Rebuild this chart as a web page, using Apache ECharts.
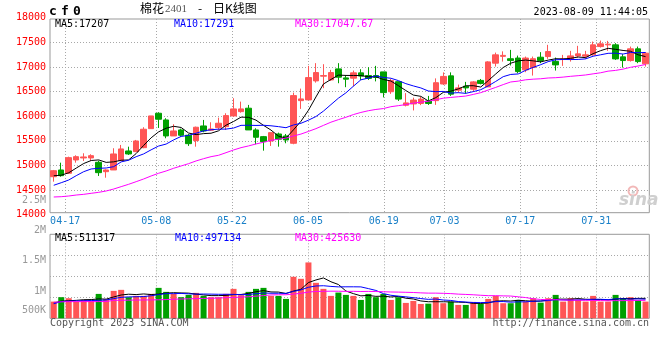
<!DOCTYPE html>
<html><head><meta charset="utf-8">
<script src="https://cdn.jsdelivr.net/npm/echarts/dist/echarts.min.js"></script>
<style>html,body{margin:0;padding:0;background:#fff}#c{width:660px;height:360px}</style>
</head><body><div id="c"></div>
<script>
const dates = ['04-13','04-14','04-17','04-18','04-19','04-20','04-21','04-24','04-25','04-26',
'04-27','04-28','05-04','05-05','05-08','05-09','05-10','05-11','05-12','05-15',
'05-16','05-17','05-18','05-19','05-22','05-23','05-24','05-25','05-26','05-29',
'05-30','05-31','06-01','06-02','06-05','06-06','06-07','06-08','06-09','06-12',
'06-13','06-14','06-15','06-16','06-19','06-20','06-21','06-26','06-27','06-28',
'06-29','06-30','07-03','07-04','07-05','07-06','07-07','07-10','07-11','07-12',
'07-13','07-14','07-17','07-18','07-19','07-20','07-21','07-24','07-25','07-26',
'07-27','07-28','07-31','08-01','08-02','08-03','08-04','08-07','08-08','08-09'];
const labelDates = ['04-17','05-08','05-22','06-05','06-19','07-03','07-17','07-31'];

const opens = [14770,14907,14840,15110,15151,15151,15063,14872,14907,15096,
15293,15279,15360,15746,16059,15923,15598,15720,15612,15502,
15801,15714,15767,15787,16004,16092,16161,15720,15584,15496,
15638,15598,15449,16315,16330,16716,16812,16736,16960,16777,
16771,16879,16824,16824,16899,16496,16700,16222,16248,16258,
16309,16315,16653,16818,16527,16608,16547,16726,16594,17076,
17214,17166,17180,16940,16987,17197,17210,17112,17150,17163,
17224,17218,17245,17413,17448,17448,17204,17129,17367,17062];
const closes = [14892,14791,15157,15177,15171,15197,14852,14907,15232,15334,
15232,15496,15734,16004,15937,15598,15699,15612,15441,15775,
15699,15740,15856,16011,16147,16147,15720,15571,15482,15665,
15531,15516,16417,16350,16783,16885,16824,16885,16791,16751,
16879,16814,16767,16787,16478,16722,16346,16269,16326,16346,
16258,16679,16807,16446,16574,16574,16696,16665,17102,17245,
17234,17131,16905,17180,17166,17129,17312,17041,17163,17224,
17265,17245,17448,17468,17462,17163,17129,17367,17108,17279];
const lows = [14669,14770,14825,15055,15090,15090,14785,14750,14907,15096,
15212,15279,15348,15746,15760,15551,15598,15584,15395,15380,
15673,15699,15720,15720,15990,16071,15720,15429,15299,15395,
15380,15449,15429,16147,16330,16681,16568,16716,16669,16588,
16604,16736,16736,16706,16380,16452,16309,16198,16116,16224,
16228,16228,16633,16411,16478,16458,16492,16645,16594,17007,
17108,17029,16873,16893,16824,17076,17163,16926,17021,17108,
17190,17163,17230,17393,17326,17143,16987,17108,17076,17007];
const highs = [14907,15055,15177,15205,15246,15226,15096,14921,15348,15415,
15380,15517,15775,16004,16080,15958,15836,15746,15638,15787,
15923,15876,15970,16059,16364,16295,16228,15754,15598,15665,
15665,15638,16478,16559,17021,17076,17055,16940,17076,16832,
16926,16954,16994,17021,16899,16760,16700,16468,16376,16395,
16411,16767,16889,16889,16641,16696,16710,16755,17116,17291,
17316,17346,17230,17210,17210,17300,17448,17190,17244,17326,
17428,17326,17515,17535,17529,17482,17259,17413,17413,17300];

const ma5 = [14790,14800,14850,14945,15038,15099,15111,15061,15072,15104,
15111,15240,15406,15560,15681,15754,15794,15770,15657,15625,
15645,15653,15702,15816,15891,15980,15976,15919,15813,15717,
15594,15553,15722,15896,16119,16390,16652,16745,16834,16827,
16826,16824,16800,16800,16745,16714,16620,16520,16428,16402,
16309,16376,16483,16507,16553,16616,16619,16591,16722,16856,
16988,17075,17123,17139,17123,17102,17138,17166,17162,17174,
17201,17188,17269,17330,17378,17357,17334,17318,17246,17209];
const ma10 = [14596,14648,14703,14791,14872,14927,14941,14947,14974,15071,
15105,15176,15233,15316,15393,15433,15517,15588,15609,15653,
15700,15724,15736,15737,15758,15813,15815,15811,15815,15804,
15787,15765,15821,15855,15918,15992,16102,16234,16365,16473,
16608,16738,16773,16817,16786,16770,16722,16660,16614,16573,
16511,16498,16502,16468,16477,16463,16498,16537,16615,16705,
16802,16847,16857,16931,16990,17045,17107,17145,17151,17149,
17152,17163,17217,17246,17276,17279,17261,17293,17288,17293];
const ma30 = [14358,14364,14378,14398,14412,14433,14453,14480,14520,14568,
14616,14669,14724,14785,14840,14886,14941,14988,15035,15090,
15136,15177,15205,15258,15313,15360,15395,15435,15470,15509,
15531,15555,15597,15636,15690,15746,15812,15877,15929,15977,
16032,16075,16110,16136,16154,16192,16213,16235,16264,16284,
16302,16333,16365,16380,16394,16408,16441,16477,16531,16584,
16641,16694,16711,16738,16751,16759,16775,16781,16793,16809,
16822,16836,16859,16881,16914,16929,16955,16992,17018,17049];

const volumes = [437000,553000,526000,437000,481000,455000,639000,500000,718000,745000,
553000,587000,587000,639000,797000,692000,639000,553000,613000,666000,
587000,553000,553000,639000,771000,605000,692000,771000,797000,587000,
587000,508000,1087000,1034000,1463000,929000,771000,587000,674000,613000,
587000,481000,639000,553000,639000,481000,553000,403000,455000,376000,
384000,553000,395000,437000,350000,350000,429000,376000,508000,587000,
395000,395000,481000,437000,526000,410000,526000,613000,437000,526000,
481000,437000,587000,437000,437000,613000,526000,553000,481000,437000];
const vma5 = [400000,450000,460000,470000,487000,490000,508000,502000,559000,611000,
631000,621000,638000,622000,633000,660000,671000,664000,659000,633000,
612000,594000,594000,600000,621000,624000,652000,696000,727000,690000,
687000,650000,713000,761000,936000,1004000,1057000,957000,885000,715000,
646000,588000,599000,575000,580000,559000,573000,526000,506000,454000,
434000,434000,433000,429000,424000,417000,392000,388000,403000,450000,
459000,452000,473000,459000,447000,450000,476000,502000,502000,502000,
517000,499000,494000,494000,476000,502000,520000,513000,522000,522000];
const vma10 = [380000,440000,450000,455000,460000,465000,470000,480000,515000,549000,
561000,564000,570000,590000,622000,646000,646000,651000,641000,633000,
636000,633000,629000,629000,627000,618000,623000,645000,663000,656000,
656000,651000,704000,744000,813000,846000,853000,835000,823000,825000,
825000,823000,778000,730000,647000,603000,581000,562000,540000,517000,
496000,504000,479000,468000,439000,426000,413000,411000,416000,437000,
438000,422000,431000,431000,448000,454000,464000,488000,481000,475000,
483000,487000,498000,498000,489000,509000,509000,503000,508000,499000];
const vma30 = [420000,430000,435000,437000,437000,437000,437000,440000,470000,472000,
475000,478000,480000,482000,485000,490000,500000,505000,510000,515000,
520000,525000,530000,540000,545000,555000,565000,580000,595000,612000,
617000,616000,635000,655000,687000,703000,707000,710000,709000,704000,
706000,702000,704000,701000,696000,689000,686000,681000,676000,666000,
659000,659000,654000,647000,633000,625000,616000,603000,593000,593000,
587000,583000,563000,543000,511000,494000,486000,487000,479000,476000,
473000,471000,469000,465000,459000,463000,462000,467000,468000,470000];

const priceTicks = {min: 14000, max: 18000, step: 500};
const volTickLabels = {min: 500000, max: 2500000, step: 500000};

const chart = echarts.init(document.getElementById('c'), null, {renderer: 'canvas'});
const L = 50, W = 599.3;
const RED = '#ff5555', GREEN = '#00a000';
const MONO = "'DejaVu Sans Mono', monospace";
const dotted = {color: '#a8a8a8', width: 1, type: [1, 2]};
const labelIdx = new Set(labelDates.map(d => dates.indexOf(d)));
const showAt = (i) => labelIdx.has(i);
const isUp = i => closes[i] >= opens[i];

function txt(x, y, text, fill, opts) {
  opts = opts || {};
  return {type: 'text', x: x, y: y, z: 100, silent: true,
    style: {text: text, fill: fill, font: opts.font || ('10px ' + MONO),
      textAlign: opts.align || 'left', align: opts.align || 'left',
      textVerticalAlign: 'middle', verticalAlign: 'middle'}};
}
const BIG = "bold 13px 'DejaVu Sans Mono', monospace";

const option = {
  animation: false,
  backgroundColor: '#fff',
  grid: [
    {left: L, top: 19, width: W, height: 193.7, show: true, borderColor: '#999', borderWidth: 1, backgroundColor: 'transparent', outerBoundsMode: 'none'},
    {left: L, top: 17.68, width: W, height: 196.94, outerBoundsMode: 'none'},
    {left: L, top: 234.3, width: W, height: 84, show: true, borderColor: '#999', borderWidth: 1, backgroundColor: 'transparent', outerBoundsMode: 'none'},
    {left: L, top: 200.3, width: W, height: 120.9, outerBoundsMode: 'none'}
  ],
  xAxis: [
    {type: 'category', gridIndex: 0, data: dates, boundaryGap: true, show: false},
    {type: 'category', gridIndex: 0, data: dates, boundaryGap: false, position: 'bottom',
      axisLine: {show: false}, axisTick: {show: false},
      axisLabel: {interval: showAt, color: '#1a80c8', fontFamily: MONO, fontSize: 10, margin: 4},
      splitLine: {show: true, interval: showAt, lineStyle: dotted}},
    {type: 'category', gridIndex: 1, data: dates, show: false},
    {type: 'category', gridIndex: 2, data: dates, boundaryGap: true, show: false},
    {type: 'category', gridIndex: 2, data: dates, boundaryGap: false,
      axisLine: {show: false}, axisTick: {show: false}, axisLabel: {show: false},
      splitLine: {show: true, interval: showAt, lineStyle: dotted}},
    {type: 'category', gridIndex: 3, data: dates, show: false}
  ],
  yAxis: [
    {type: 'value', gridIndex: 0, min: 14039, max: 17973, show: false},
    {type: 'value', gridIndex: 1, min: priceTicks.min, max: priceTicks.max, interval: priceTicks.step,
      axisLine: {show: false}, axisTick: {show: false},
      axisLabel: {color: '#ff0000', fontFamily: MONO, fontSize: 10, margin: 4, padding: [0, 0, 4, 0],
        formatter: v => String(v)},
      splitLine: {show: true, showMinLine: false, showMaxLine: false, lineStyle: dotted}},
    {type: 'value', gridIndex: 2, min: 0, max: 2200000, interval: 550000,
      axisLine: {show: false}, axisTick: {show: false}, axisLabel: {show: false},
      splitLine: {show: true, showMinLine: false, showMaxLine: false, lineStyle: dotted}},
    {type: 'value', gridIndex: 3, min: volTickLabels.min, max: volTickLabels.max, interval: volTickLabels.step,
      axisLine: {show: false}, axisTick: {show: false}, splitLine: {show: false},
      axisLabel: {color: '#999', fontFamily: MONO, fontSize: 10, margin: 4,
        formatter: v => v === 500000 ? '{s|500K}' : (v / 1e6) + 'M',
        rich: {s: {color: '#999', fontFamily: MONO, fontSize: 10, padding: [0, 0, 21, 0]}}}}
  ],
  series: [
    {type: 'candlestick', xAxisIndex: 0, yAxisIndex: 0, barWidth: 6, z: 2,
      data: dates.map((d, i) => [opens[i], closes[i], lows[i], highs[i]]),
      itemStyle: {color: RED, color0: GREEN, borderColor: RED, borderColor0: GREEN, borderWidth: 1}},
    {type: 'line', xAxisIndex: 0, yAxisIndex: 0, data: ma5, symbol: 'none', z: 3, lineStyle: {color: '#000', width: 1}, itemStyle: {color: '#000'}},
    {type: 'line', xAxisIndex: 0, yAxisIndex: 0, data: ma10, symbol: 'none', z: 3, lineStyle: {color: '#0000ff', width: 1}, itemStyle: {color: '#0000ff'}},
    {type: 'line', xAxisIndex: 0, yAxisIndex: 0, data: ma30, symbol: 'none', z: 3, lineStyle: {color: '#ff00ff', width: 1}, itemStyle: {color: '#ff00ff'}},
    {type: 'bar', xAxisIndex: 3, yAxisIndex: 2, barWidth: 6, z: 2,
      data: volumes.map((v, i) => ({value: v, itemStyle: {color: isUp(i) ? RED : GREEN}}))},
    {type: 'line', xAxisIndex: 3, yAxisIndex: 2, data: vma5, symbol: 'none', z: 3, lineStyle: {color: '#000', width: 1}, itemStyle: {color: '#000'}},
    {type: 'line', xAxisIndex: 3, yAxisIndex: 2, data: vma10, symbol: 'none', z: 3, lineStyle: {color: '#0000ff', width: 1}, itemStyle: {color: '#0000ff'}},
    {type: 'line', xAxisIndex: 3, yAxisIndex: 2, data: vma30, symbol: 'none', z: 3, lineStyle: {color: '#ff00ff', width: 1}, itemStyle: {color: '#ff00ff'}}
  ],
  graphic: [
    txt(49, 12, 'c', '#000', {font: BIG}),
    txt(61, 12, 'f', '#000', {font: BIG}),
    txt(73, 12, '0', '#000', {font: BIG}),
    txt(140, 8.5, '棉花', '#000', {font: "12px 'Noto Sans CJK SC'"}),
    txt(165, 9.5, '2401', '#555', {font: "11px 'Liberation Serif', serif"}),
    txt(200, 8.5, '-', '#000', {font: "12px 'Noto Sans CJK SC'", align: 'center'}),
    txt(213, 8.5, '日K线图', '#000', {font: "12px 'Noto Sans CJK SC'"}),
    txt(648, 12, '2023-08-09 11:44:05', '#000', {align: 'right'}),
    txt(55, 24, 'MA5:17207', '#000'),
    txt(174, 24, 'MA10:17291', '#0000ff'),
    txt(295, 24, 'MA30:17047.67', '#ff00ff'),
    txt(55, 238.5, 'MA5:511317', '#000'),
    txt(175, 238.5, 'MA10:497134', '#0000ff'),
    txt(295, 238.5, 'MA30:425630', '#ff00ff'),
    txt(50, 323.5, 'Copyright 2023 SINA.COM', '#555'),
    txt(649, 323.5, 'http://finance.sina.com.cn', '#555', {align: 'right'}),
    {type: 'circle', shape: {cx: 633, cy: 191, r: 4.5}, z: 1, silent: true, style: {fill: 'none', stroke: '#f2b8b8', lineWidth: 2}},
    {type: 'text', x: 619, y: 201, z: 1, silent: true, style: {text: 'sina', fill: '#cfcfcf', font: "italic bold 17px 'DejaVu Sans', sans-serif", textVerticalAlign: 'middle', verticalAlign: 'middle'}}
  ]
};
chart.setOption(option);
</script></body></html>
